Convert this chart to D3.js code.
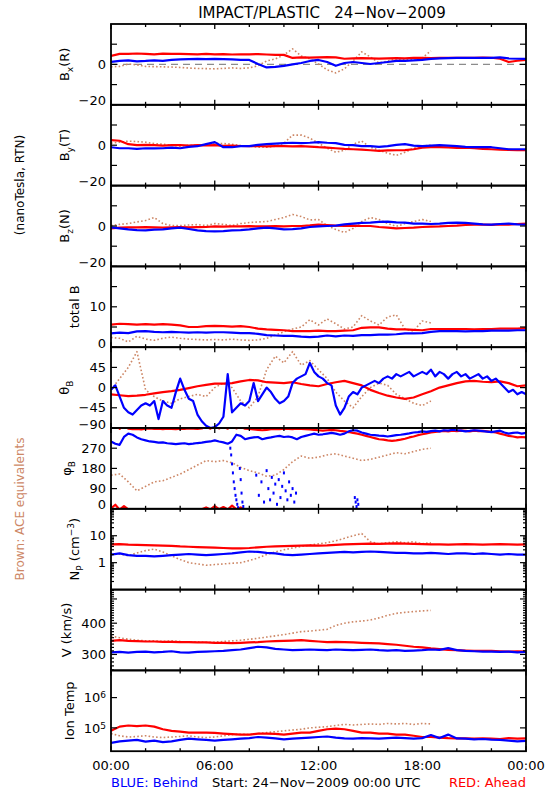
<!DOCTYPE html>
<html><head><meta charset="utf-8">
<script src="https://cdn.jsdelivr.net/npm/d3@7"></script>
<style>body{margin:0;background:#fff}svg{display:block}text{font-family:"DejaVu Sans",sans-serif;white-space:pre}</style>
</head><body><svg id="c" width="550" height="800"></svg>
<script>
// ---------- DATA (hours after 24-Nov-2009 00:00 UTC) ----------
// 30-minute samples unless noted; brown (ACE) ends at 18.5 h
const bxRed   = [4.2,5.2,5.2,5.4,5.2,5.0,5.3,5.2,5.2,5.1,5.0,5.2,5.0,5.1,4.9,5.0,5.0,5.1,4.9,4.7,4.7,3.2,3.5,3.4,3.5,3.6,3.5,2.8,3.0,3.1,3.0,2.9,3.0,3.1,3.0,3.2,3.2,3.1,3.2,3.3,3.2,3.2,3.3,3.4,3.3,2.8,1.2,1.8,2.2];
const bxBlue  = [1.2,1.7,2.0,1.5,1.7,2.0,1.7,2.2,2.5,2.6,2.7,2.6,2.7,2.6,2.5,2.2,2.2,0.2,-1.5,-1.2,-0.7,0.0,0.7,1.7,2.2,1.2,-0.7,0.7,1.2,0.7,0.2,0.7,1.2,1.7,1.7,2.0,2.2,2.7,3.0,3.1,3.2,3.2,3.2,3.3,3.2,3.5,3.0,2.8,2.7];
const bxBrown = [-1.2,-1.0,0.2,-0.2,-1.0,-1.1,-1.2,-1.3,-1.5,-1.8,-2.0,-2.1,-2.2,-2.0,-1.7,-2.0,-1.7,-0.7,1.7,2.7,4.7,7.7,4.2,2.7,0.2,-2.7,-4.2,-2.2,1.7,6.2,3.7,0.7,1.7,2.7,2.2,2.7,3.2,6.7];
const byRed   = [2.5,2.2,0.5,0.0,0.2,0.0,-0.2,0.0,0.1,-0.2,0.0,-0.1,0.0,-0.3,-0.2,-0.4,-0.5,-0.4,-0.6,-0.5,-0.5,-0.6,-0.5,-0.7,-1.0,-1.2,-1.5,-1.8,-2.0,-2.2,-2.5,-2.8,-2.6,-2.5,-2.4,-2.0,-1.2,-1.0,-1.0,-1.1,-1.3,-1.2,-1.5,-1.8,-2.0,-2.2,-2.3,-2.5,-2.5];
const byBlue  = [-1.0,-1.5,-1.5,-1.8,-1.5,-1.6,-1.5,-1.2,-1.5,-0.8,-0.5,0.5,1.5,-1.0,-1.0,-0.5,-0.5,0.2,0.5,0.8,1.0,1.2,1.0,1.2,1.5,1.2,1.0,0.2,0.0,-0.5,-0.5,-0.8,-0.5,0.2,0.5,-0.2,-0.5,-0.2,0.0,-0.2,-0.5,-0.8,-1.0,-1.0,-1.0,-1.5,-2.0,-2.0,-2.0];
const byBrown = [1.0,1.5,2.0,1.8,1.5,0.8,0.5,0.0,-0.5,0.0,0.0,0.5,1.0,0.8,0.5,-0.2,-0.5,-1.0,-1.0,-0.5,1.0,5.0,5.0,3.5,1.0,-1.5,-3.5,-2.5,0.5,2.0,-1.0,-2.5,-4.0,-5.0,-3.5,-1.5,-0.5,0.0];
const bzRed   = [-1.2,-0.8,-0.7,-0.7,-0.6,-0.7,-0.8,-0.7,-0.6,-0.7,-0.6,-0.5,-0.2,-0.3,-0.2,-0.2,-0.1,-0.2,-0.2,-0.1,-0.2,0.0,0.0,0.3,0.7,0.5,0.2,0.0,0.2,0.0,0.0,-0.5,-0.8,-1.2,-1.0,-0.8,-0.5,-0.3,-0.2,0.0,0.2,0.5,0.7,0.7,0.6,0.8,0.7,1.0,1.2];
const bzBlue  = [-0.7,-1.2,-1.7,-2.0,-2.2,-1.8,-1.7,-1.2,-0.8,-1.5,-2.2,-2.5,-2.7,-2.5,-2.2,-2.0,-1.7,-1.2,-0.8,-1.2,-1.7,-1.5,-1.2,-0.5,-0.2,0.0,0.2,0.8,1.2,1.5,1.7,2.0,2.2,1.8,1.7,1.2,1.2,1.0,1.2,1.5,1.7,1.5,1.2,0.8,0.7,1.0,1.2,0.8,0.7];
const bzBrown = [0.2,0.8,1.2,2.0,2.7,4.2,1.2,0.2,0.2,0.5,0.7,0.2,1.2,0.8,0.2,1.2,1.7,2.0,2.2,3.2,4.2,5.7,4.7,3.0,3.2,0.2,-1.7,-3.2,-1.2,2.2,4.2,3.2,1.2,-0.2,1.2,2.2,3.2,2.2];
const btRed   = [5.6,5.8,5.7,5.6,5.7,5.6,5.7,5.6,5.4,5.0,5.0,5.2,5.3,5.2,5.1,5.2,5.0,4.6,4.4,4.3,4.2,4.0,4.0,4.0,4.1,4.0,4.0,4.1,4.2,4.8,4.9,4.9,4.6,4.4,4.4,4.3,4.2,4.5,4.5,4.5,4.5,4.5,4.4,4.5,4.5,4.6,4.6,4.6,4.7];
const btBlue  = [3.4,3.6,3.5,3.9,4.0,3.8,3.7,3.8,3.7,3.6,3.7,3.6,3.7,3.7,3.6,3.5,3.5,3.3,3.0,2.9,2.8,2.8,2.6,2.5,2.6,2.9,2.7,2.9,2.8,3.0,3.0,3.1,3.1,3.2,3.4,3.4,3.5,3.8,4.0,4.0,4.0,3.9,4.0,4.0,4.1,4.1,4.1,4.2,4.2];
const btBrown = [2.4,2.2,1.3,2.7,2.0,1.7,2.2,2.5,2.2,2.0,1.9,1.8,1.9,1.8,2.0,1.8,1.7,1.8,2.2,3.0,3.8,4.5,5.0,6.8,5.5,7.0,5.8,4.5,5.0,7.8,6.5,5.5,7.5,8.0,4.5,4.0,6.5,6.0];
const thRed   = [-15,-17,-19,-18,-16,-13,-10,-8,-5,-1,3,6,9,9,10,14,17,16,12,11,10,12,8,5,3,8,12,15,10,5,-5,-12,-18,-22,-25,-22,-15,-8,0,5,10,14,15,13,12,14,10,3,5];
// 15-minute samples
const thBlue  = [-5,5,-20,-45,-55,-60,-50,-40,-35,-40,-30,-70,-30,-40,-45,-10,20,-5,-25,-30,-60,-75,-85,-90,-88,-80,-65,30,-55,-45,-35,-40,-30,10,-30,-15,0,-10,-25,-35,-30,-20,10,20,25,30,55,35,25,20,10,5,-40,-60,-45,-20,-10,-15,0,5,10,15,10,20,25,20,30,25,30,35,25,30,35,30,40,25,35,30,20,30,35,25,30,20,25,30,20,25,15,20,10,0,-10,-5,-15,-10,-15];
const thBrown = [-5,20,45,80,-5,-20,-30,-35,-25,-20,-15,-20,0,10,0,-30,-45,-20,40,70,55,80,50,60,40,20,-10,-30,-45,-20,0,10,5,-15,-25,-35,-40,-30];
// 15-minute samples (values above 360 wrap to the bottom of the panel)
const phRed   = [362,378,356,372,357,355,356,354,357,358,356,357,355,357,356,355,357,356,358,357,356,358,366,357,372,358,368,357,374,358,366,357,356,354,352,350,352,355,356,355,357,356,355,357,356,355,354,352,350,348,350,352,350,347,345,342,338,335,330,325,320,315,310,308,305,303,305,308,312,318,322,328,332,336,340,343,345,347,345,348,346,348,347,345,348,346,347,345,343,340,335,330,325,322,318,320,318];
const phBlue  = [300,290,285,320,335,330,318,310,305,300,298,295,296,292,290,288,290,292,288,290,293,295,298,300,305,300,296,290,300,330,325,310,315,318,320,310,315,318,322,325,320,322,318,310,320,325,330,335,330,332,335,338,335,330,335,345,350,348,340,335,330,328,326,325,322,325,328,330,333,336,340,342,345,343,346,348,345,350,348,352,350,348,345,347,350,348,346,344,342,345,348,340,335,338,340,335,338];
const phBrown = [150,155,120,80,100,120,125,140,155,175,195,215,210,215,205,185,170,160,145,150,175,210,235,225,230,240,245,235,225,215,220,230,240,250,245,255,265,270];
// scattered Behind phi samples during rotations (hour, degrees)
const phBlueScatT = [6.9,6.95,7.0,7.05,7.1,7.15,7.2,7.25,7.3,7.35,7.45,7.5,7.55,7.6,7.65,8.4,8.55,8.7,8.85,9.0,9.1,9.2,9.3,9.4,9.5,9.6,9.7,9.8,9.9,10.0,10.1,10.2,10.3,10.4,10.5,10.6,10.7,14.1,14.15,14.2,14.25,14.3];
const phBlueScatV = [270,240,200,160,120,90,60,40,20,5,180,130,70,30,10,150,60,120,30,170,90,40,140,70,110,20,130,50,100,160,80,40,120,60,90,30,70,50,30,10,40,20];
const npRed   = [4.8,4.9,4.7,4.6,4.5,4.4,4.3,4.2,4.0,3.9,3.8,3.7,3.6,3.5,3.4,3.4,3.5,3.7,3.9,4.0,4.1,4.2,4.3,4.4,4.3,4.4,4.6,4.8,4.9,5.0,5.1,5.0,5.1,5.2,5.1,5.0,4.9,4.8,4.8,4.7,4.8,4.9,4.8,4.7,4.8,4.9,4.8,4.7,4.8];
const npBlue  = [2.0,2.2,1.9,1.8,1.8,1.7,1.8,1.9,2.0,2.1,2.0,1.9,2.0,2.1,2.2,2.4,2.6,2.5,2.3,2.2,2.0,1.9,2.0,2.1,2.2,2.3,2.4,2.5,2.4,2.5,2.6,2.5,2.4,2.3,2.3,2.2,2.2,2.3,2.2,2.1,2.2,2.2,2.1,2.2,2.1,2.0,2.1,2.0,2.0];
const npBrown = [2.0,2.1,1.8,2.3,2.8,3.2,2.5,1.8,1.3,1.0,0.9,0.8,0.85,0.9,0.95,1.0,1.2,1.5,2.0,2.5,3.0,3.5,4.0,4.5,5.0,5.5,6.5,8.0,10,12,6,5,5.5,6,5.5,6,5,5.5];
const vRed    = [340,342,340,339,338,338,337,337,336,336,335,335,334,334,333,334,335,336,338,339,340,341,342,340,338,336,337,336,335,334,333,332,330,328,325,322,320,317,315,313,312,311,310,310,310,309,308,309,308];
const vBlue   = [306,307,305,307,308,306,307,309,306,305,307,308,309,310,312,314,318,322,320,316,314,312,313,314,313,312,314,313,312,313,314,312,311,312,310,311,312,314,313,318,312,310,309,308,308,307,308,306,307];
const vBrown  = [355,350,345,342,340,340,338,340,338,336,337,335,336,338,340,342,345,348,352,356,360,365,370,372,375,378,392,400,405,408,412,420,430,438,442,445,448,450];
const tRed    = [8e4,1.1e5,1.2e5,1.15e5,1.2e5,1.1e5,9e4,8e4,7.5e4,7e4,7e4,7e4,6.8e4,6.5e4,6.2e4,6e4,6e4,6.5e4,6.5e4,6.3e4,6e4,6.5e4,7e4,7e4,8e4,9e4,9.5e4,9e4,8e4,7e4,7e4,6.5e4,6.5e4,6e4,6e4,5.5e4,5e4,5e4,4.8e4,4.6e4,4.5e4,4.5e4,4.4e4,4.5e4,4.4e4,4.3e4,4.6e4,4.4e4,4.5e4];
const tBlue   = [3.2e4,3.6e4,3.8e4,4.0e4,3.5e4,3.8e4,3.4e4,3.6e4,4.0e4,4.4e4,4.2e4,4.0e4,3.8e4,4.0e4,4.2e4,4.4e4,4.6e4,5.0e4,4.8e4,4.5e4,4.2e4,4.4e4,4.6e4,4.8e4,5.0e4,5.2e4,4.8e4,4.5e4,4.4e4,4.6e4,4.5e4,4.4e4,4.6e4,4.8e4,4.6e4,4.4e4,4.6e4,5.8e4,4.6e4,6.0e4,4.5e4,4.4e4,4.2e4,4.3e4,4.1e4,4.0e4,3.8e4,3.6e4,3.7e4];
const tBrown  = [6.5e4,5.5e4,5.0e4,5.2e4,5.5e4,5.0e4,4.8e4,5.0e4,5.2e4,5.5e4,5.0e4,4.8e4,5.0e4,5.5e4,6.0e4,6.2e4,6.0e4,6.5e4,7.0e4,7.5e4,8.0e4,8.5e4,9.0e4,1.0e5,1.05e5,1.1e5,1.2e5,1.3e5,1.25e5,1.3e5,1.35e5,1.3e5,1.4e5,1.35e5,1.4e5,1.3e5,1.4e5,1.35e5];

const hourTicks  = [0,2,4,6,8,10,12,14,16,18,20,22,24];
const hourLabels = ["00:00","06:00","12:00","18:00","00:00"];

// ---------- LAYOUT ----------
const svg = d3.select("#c");
const L = 111, R = 526, TOP = 24, PH = 80.8;
const COL = {red:"#ff0000", blue:"#0000ff", brown:"#cd8766"};
const x = d3.scaleLinear().domain([0,24]).range([L,R]);

const panels = [
 {title:[["B",0],["x",1],["(R)",0]], type:"lin", dom:[-20,20], major:[-20,0], lab:{"-20":"−20","0":"0"}, minor:[-10,10], dash:true, s:[bxBrown,bxRed,bxBlue], step:[0.5,0.5,0.5]},
 {title:[["B",0],["y",1],["(T)",0]], type:"lin", dom:[-20,20], major:[-20,0], lab:{"-20":"−20","0":"0"}, minor:[-10,10], s:[byBrown,byRed,byBlue], step:[0.5,0.5,0.5]},
 {title:[["B",0],["z",1],["(N)",0]], type:"lin", dom:[-20,20], major:[-20,0], lab:{"-20":"−20","0":"0"}, minor:[-10,10], s:[bzBrown,bzRed,bzBlue], step:[0.5,0.5,0.5]},
 {title:[["total B",0]], type:"lin", dom:[0,20], major:[0,10], lab:{"0":"0","10":"10"}, minor:[5,15], s:[btBrown,btRed,btBlue], step:[0.5,0.5,0.5]},
 {title:[["θ",0],["B",1]], type:"lin", dom:[-90,90], major:[-90,-45,0,45], lab:{"-90":"−90","-45":"−45","0":"0","45":"45"}, minor:[], s:[thBrown,thRed,thBlue], step:[0.5,0.5,0.25]},
 {title:[["φ",0],["B",1]], type:"lin", dom:[0,360], major:[0,90,180,270], lab:{"0":"0","90":"90","180":"180","270":"270"}, minor:[], wrap:true, s:[phBrown,phRed,phBlue], step:[0.5,0.25,0.25], scat:[phBlueScatT,phBlueScatV]},
 {title:[["N",0],["P",1],[" (cm",0],["−3",2],[")",0]], type:"log", dom:[0.1,100], major:[1,10], lab:{"1":"1","10":"10"}, minor:[0.2,0.3,0.4,0.5,0.6,0.7,0.8,0.9,2,3,4,5,6,7,8,9,20,30,40,50,60,70,80,90], s:[npBrown,npRed,npBlue], step:[0.5,0.5,0.5]},
 {title:[["V (km/s)",0]], type:"log", dom:[259,545], major:[300,400,500], lab:{"300":"300","400":"400"}, minor:d3.range(260,541,10).filter(v=>v%100), s:[vBrown,vRed,vBlue], step:[0.5,0.5,0.5]},
 {title:[["Ion Temp",0]], type:"log", dom:[1.7e4,7.9e6], major:[1e5,1e6], lab:{"100000":["10","5"],"1000000":["10","6"]}, minor:[], s:[tBrown,tRed,tBlue], step:[0.5,0.5,0.5]}
];

const defs = svg.append("defs");
panels.forEach((p,i)=>{
  const y0 = TOP + i*PH, y1 = y0 + PH;
  const y = (p.type==="log"?d3.scaleLog():d3.scaleLinear()).domain(p.dom).range([y1,y0]);
  const g = svg.append("g");
  defs.append("clipPath").attr("id","cp"+i).append("rect").attr("x",L).attr("y",y0).attr("width",R-L).attr("height",PH);
  const dg = g.append("g").attr("clip-path","url(#cp"+i+")");
  if(p.dash) dg.append("line").attr("x1",L).attr("x2",R).attr("y1",y(0)).attr("y2",y(0))
      .attr("stroke","#8c8c8c").attr("stroke-width",1.2).attr("stroke-dasharray","7,5");
  const names=["brown","red","blue"];
  p.s.forEach((arr,k)=>{
    const st = p.step[k];
    const offs = p.wrap ? [0,-360] : [0];
    offs.forEach(o=>{
      const line = d3.line().x((d,j)=>x(j*st)).y(d=>y(d+o));
      const path = dg.append("path").datum(arr).attr("d",line).attr("fill","none")
        .attr("stroke",COL[names[k]]).attr("stroke-linejoin","round");
      if(k===0) path.attr("stroke-width",1.6).attr("stroke-dasharray","1.6,2.2");
      else path.attr("stroke-width",2.2);
    });
  });
  if(p.scat){
    dg.selectAll(null).data(p.scat[0]).join("rect")
      .attr("x",(d)=>x(d)-1).attr("y",(d,j)=>y(p.scat[1][j])-1.5).attr("width",2).attr("height",3).attr("fill",COL.blue);
  }
  // frame
  g.append("rect").attr("x",L).attr("y",y0).attr("width",R-L).attr("height",PH)
    .attr("fill","none").attr("stroke","#000").attr("stroke-width",1.8);
  // x ticks (top & bottom)
  hourTicks.forEach(h=>{
    const len = h%6===0 ? 5 : 3;
    [[y0,1],[y1,-1]].forEach(([yy,dir])=>{
      g.append("line").attr("x1",x(h)).attr("x2",x(h)).attr("y1",yy).attr("y2",yy+dir*len)
        .attr("stroke","#000").attr("stroke-width",1.3);
    });
  });
  // y ticks
  const yt = (v,len)=>{
    const yy=y(v);
    g.append("line").attr("x1",L).attr("x2",L+len).attr("y1",yy).attr("y2",yy).attr("stroke","#000").attr("stroke-width",1.2);
    g.append("line").attr("x1",R-len).attr("x2",R).attr("y1",yy).attr("y2",yy).attr("stroke","#000").attr("stroke-width",1.2);
  };
  p.major.forEach(v=>yt(v,6));
  p.minor.forEach(v=>yt(v,p.type==="log"?3:6));
  // labels
  let maxW = 0;
  p.major.forEach(v=>{
    const lab = p.lab[String(v)]; if(lab===undefined) return;
    let yy = y(v); if(Math.abs(yy-y1)<1) yy -= 4;
    const t = g.append("text").attr("x",106).attr("y",yy).attr("dy","0.36em").attr("text-anchor","end").attr("font-size",13);
    if(Array.isArray(lab)){ t.append("tspan").text(lab[0]); t.append("tspan").attr("dy","-0.45em").attr("font-size",9).text(lab[1]); }
    else t.text(lab);
    maxW = Math.max(maxW, t.node().getComputedTextLength());
  });
  // axis title (rotated)
  const tx = 106 - maxW - 10, ty = (y0+y1)/2;
  const tt = g.append("text").attr("transform",`translate(${tx},${ty}) rotate(-90)`).attr("text-anchor","middle").attr("font-size",13);
  let shift = 0;
  p.title.forEach(([s,m])=>{
    const sp = tt.append("tspan").text(s);
    const target = m===1 ? 4 : (m===2 ? -5 : 0);
    if(m) sp.attr("font-size",9);
    if(target!==shift){ sp.attr("dy",target-shift); shift = target; }
  });
});

// x axis labels
[0,6,12,18,24].forEach((h,i)=>{
  svg.append("text").attr("x",x(h)).attr("y",770).attr("text-anchor","middle").attr("font-size",13).text(hourLabels[i]);
});
// title & annotations
svg.append("text").attr("x",322).attr("y",18).attr("text-anchor","middle").attr("font-size",15).text("IMPACT/PLASTIC   24−Nov−2009");
svg.append("text").attr("x",L).attr("y",787).attr("font-size",13).attr("fill",COL.blue).text("BLUE: Behind");
svg.append("text").attr("x",212).attr("y",787).attr("font-size",13).text("Start: 24−Nov−2009 00:00 UTC");
svg.append("text").attr("x",R).attr("y",787).attr("text-anchor","end").attr("font-size",13).attr("fill",COL.red).text("RED: Ahead");
svg.append("text").attr("transform","translate(24,185) rotate(-90)").attr("text-anchor","middle").attr("font-size",12).text("(nanoTesla, RTN)");
svg.append("text").attr("transform","translate(24,509) rotate(-90)").attr("text-anchor","middle").attr("font-size",12).attr("fill",COL.brown).text("Brown: ACE equivalents");
</script></body></html>
